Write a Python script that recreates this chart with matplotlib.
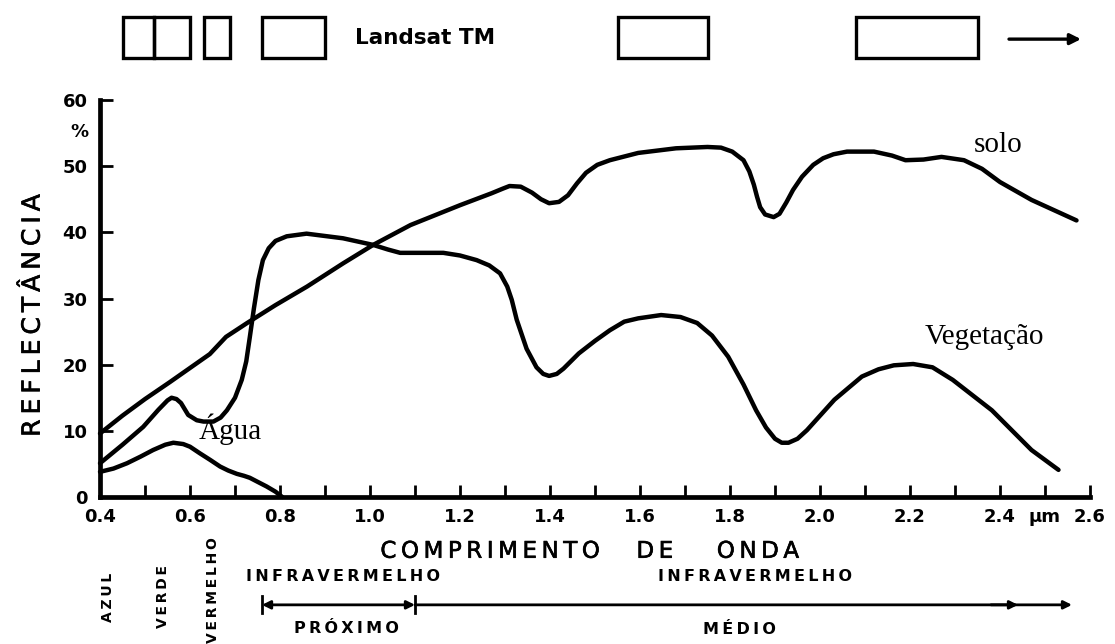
import matplotlib
matplotlib.use("Agg")
import matplotlib.pyplot as plt
import matplotlib.patheffects as pe
from matplotlib.patches import Rectangle
from matplotlib.ticker import FixedLocator, MultipleLocator
from matplotlib.transforms import blended_transform_factory

# Landsat TM band limits (µm)
tm_band_start = [0.45, 0.52, 0.63, 0.76, 1.55, 2.08]
tm_band_end = [0.52, 0.60, 0.69, 0.90, 1.75, 2.35]

# Spectral reflectance curves: wavelength (µm) and reflectance (%)
solo_wl = [0.40, 0.45, 0.50, 0.556, 0.60, 0.644, 0.68, 0.727, 0.79, 0.86, 0.94,
           1.007, 1.09, 1.20, 1.27, 1.295, 1.31, 1.335, 1.36, 1.38, 1.398, 1.42,
           1.44, 1.46, 1.48, 1.505, 1.533, 1.596, 1.68, 1.75, 1.78, 1.805, 1.83,
           1.843, 1.853, 1.86, 1.867, 1.878, 1.897, 1.91, 1.925, 1.94, 1.96,
           1.985, 2.007, 2.03, 2.06, 2.12, 2.16, 2.19, 2.23, 2.27, 2.32, 2.36,
           2.40, 2.47, 2.57]
solo_ref = [9.6, 12.3, 14.8, 17.4, 19.5, 21.6, 24.2, 26.3, 29.0, 31.8, 35.3,
            38.1, 41.1, 44.1, 45.9, 46.6, 47.0, 46.9, 46.0, 45.0, 44.4, 44.6,
            45.6, 47.4, 49.0, 50.2, 50.9, 52.0, 52.7, 52.9, 52.8, 52.2, 50.9,
            49.2, 47.2, 45.4, 43.8, 42.7, 42.3, 42.8, 44.5, 46.4, 48.4,
            50.2, 51.2, 51.8, 52.2, 52.2, 51.6, 50.9, 51.0, 51.4, 50.9, 49.6,
            47.6, 44.9, 41.8]

veg_wl = [0.40, 0.45, 0.496, 0.53, 0.55, 0.559, 0.57, 0.58, 0.596, 0.615, 0.63,
          0.652, 0.668, 0.682, 0.70, 0.715, 0.725, 0.733, 0.742, 0.752, 0.762,
          0.775, 0.79, 0.815, 0.859, 0.94, 1.007, 1.04, 1.067, 1.12, 1.163,
          1.20, 1.237, 1.265, 1.289, 1.305, 1.315, 1.326, 1.348, 1.37, 1.385,
          1.398, 1.415, 1.43, 1.464, 1.50, 1.533, 1.565, 1.596, 1.647, 1.69,
          1.727, 1.76, 1.796, 1.83, 1.858, 1.88, 1.90, 1.915, 1.93, 1.95, 1.971,
          2.032, 2.093, 2.13, 2.164, 2.207, 2.25, 2.295, 2.382, 2.47, 2.53]
veg_ref = [5.1, 7.9, 10.6, 13.2, 14.6, 15.0, 14.8, 14.2, 12.4, 11.6, 11.4,
           11.4, 12.0, 13.1, 15.0, 17.7, 20.5, 24.2, 28.5, 32.8, 35.8,
           37.6, 38.7, 39.4, 39.8, 39.1, 38.1, 37.4, 36.9, 36.9, 36.9,
           36.5, 35.8, 35.0, 33.8, 31.8, 29.8, 26.8, 22.4, 19.6, 18.6,
           18.3, 18.6, 19.4, 21.7, 23.6, 25.2, 26.5, 27.0, 27.5, 27.2,
           26.3, 24.4, 21.2, 17.0, 13.1, 10.5, 8.8, 8.2, 8.2, 8.8, 10.1,
           14.7, 18.2, 19.3, 19.9, 20.1, 19.6, 17.7, 13.1, 7.1, 4.1]

agua_wl = [0.40, 0.43, 0.46, 0.49, 0.518, 0.545, 0.563, 0.585, 0.60, 0.622, 0.645,
           0.667, 0.685, 0.704, 0.72, 0.733, 0.75, 0.77, 0.79, 0.805]
agua_ref = [3.8, 4.3, 5.1, 6.1, 7.1, 7.9, 8.2, 8.0, 7.6, 6.6, 5.6,
            4.6, 4.0, 3.5, 3.2, 2.9, 2.3, 1.6, 0.8, 0.0]

x_major = [0.4, 0.6, 0.8, 1.0, 1.2, 1.4, 1.6, 1.8, 2.0, 2.2, 2.4, 2.5, 2.6]
x_major_labels = ["0.4", "0.6", "0.8", "1.0", "1.2", "1.4", "1.6", "1.8",
                  "2.0", "2.2", "2.4", "µm", "2.6"]
y_ticks = [0, 10, 20, 30, 40, 50, 60]
y_tick_labels = ["0", "10", "20", "30", "40", "50", "60"]

TS = "\u2009"  # thin space used for letter spacing


def spaced(word):
    return TS.join(word)


INK = "black"
heavy = [pe.withStroke(linewidth=0.45, foreground=INK)]

fig = plt.figure(figsize=(11.15, 6.44), dpi=100)
ax = fig.add_axes([100 / 1115, 147 / 644, 990 / 1115, 397 / 644])
ax.set_xlim(0.4, 2.6)
ax.set_ylim(0, 60)

for side in ("top", "right"):
    ax.spines[side].set_visible(False)
for side in ("left", "bottom"):
    ax.spines[side].set_linewidth(3.4)
    ax.spines[side].set_color(INK)
    ax.spines[side].set_capstyle("projecting")

ax.xaxis.set_major_locator(FixedLocator(x_major))
ax.set_xticklabels(x_major_labels)
ax.xaxis.set_minor_locator(MultipleLocator(0.1))
ax.set_yticks(y_ticks)
ax.set_yticklabels(y_tick_labels)
ax.tick_params(axis="both", which="both", direction="in", length=9, width=2.0,
               color=INK, labelsize=13, pad=8)
ax.tick_params(axis="y", pad=9)
for lab in ax.get_xticklabels() + ax.get_yticklabels():
    lab.set_fontweight("bold")

# percent sign under the top y label
ax.text(-0.012, 55.2, "%", transform=blended_transform_factory(ax.transAxes, ax.transData),
        ha="right", va="center", fontsize=13, fontweight="bold")

# curves
line_kw = dict(color=INK, lw=3.2, solid_joinstyle="round", solid_capstyle="round",
               clip_on=False)
ax.plot(solo_wl, solo_ref, **line_kw)
ax.plot(veg_wl, veg_ref, **line_kw)
ax.plot(agua_wl, agua_ref, **line_kw)

serif = ["Liberation Serif", "DejaVu Serif"]
ax.text(2.396, 53.2, "solo", fontsize=21, family=serif, ha="center", va="center")
ax.text(2.365, 24.2, "Vegetação", fontsize=21, family=serif, ha="center", va="center")
ax.text(0.69, 10.3, "Água", fontsize=21, family=serif, ha="center", va="center")

# Landsat TM bands drawn above the plot
box_low, box_high = 66.3, 72.5
for s, e in zip(tm_band_start, tm_band_end):
    ax.add_patch(Rectangle((s, box_low), e - s, box_high - box_low, fill=False,
                           lw=2.4, ec=INK, clip_on=False))
ax.text(1.122, 69.4, "Landsat TM", fontsize=15.5, fontweight="bold", ha="center",
        va="center")
ax.annotate("", xy=(2.58, 69.2), xytext=(2.42, 69.2),
            arrowprops=dict(arrowstyle="-|>", lw=2.4, color=INK, mutation_scale=16,
                            shrinkA=0, shrinkB=0),
            annotation_clip=False)

# axis titles
ax.text(-0.068, 0.458, spaced("REFLECTÂNCIA"), transform=ax.transAxes, rotation=90,
        ha="center", va="center", fontsize=18, path_effects=heavy)
for xpos, word in [(1.267, "COMPRIMENTO"), (1.633, "DE"), (1.862, "ONDA")]:
    ax.text(xpos, -8.2, spaced(word), ha="center", va="center", fontsize=16.5,
            path_effects=heavy)

# visible spectrum colour names
for xpos, ypos, word in [(0.418, -15.1, "AZUL"), (0.54, -15.0, "VERDE"),
                         (0.651, -14.0, "VERMELHO")]:
    ax.text(xpos, ypos, spaced(word), rotation=90, ha="center", va="center",
            fontsize=10, fontweight="bold")

# infrared regions
ax.text(0.94, -12.0, spaced("INFRAVERMELHO"), ha="center", va="center",
        fontsize=11.5, fontweight="bold")
ax.text(1.856, -12.0, spaced("INFRAVERMELHO"), ha="center", va="center",
        fontsize=11.5, fontweight="bold")
ax.text(0.947, -19.8, spaced("PRÓXIMO"), ha="center", va="center",
        fontsize=11.5, fontweight="bold")
ax.text(1.822, -20.1, spaced("MÉDIO"), ha="center", va="center",
        fontsize=11.5, fontweight="bold")

arrow_y = -16.3
ax.annotate("", xy=(1.10, arrow_y), xytext=(0.76, arrow_y),
            arrowprops=dict(arrowstyle="<|-|>", lw=2.0, color=INK, mutation_scale=12,
                            shrinkA=0, shrinkB=0),
            annotation_clip=False)
for xb in (0.76, 1.10):
    ax.plot([xb, xb], [arrow_y - 1.3, arrow_y + 1.3], color=INK, lw=2.0, clip_on=False)
ax.annotate("", xy=(2.56, arrow_y), xytext=(1.10, arrow_y),
            arrowprops=dict(arrowstyle="-|>", lw=2.0, color=INK, mutation_scale=12,
                            shrinkA=0, shrinkB=0),
            annotation_clip=False)
ax.annotate("", xy=(2.44, arrow_y), xytext=(2.38, arrow_y),
            arrowprops=dict(arrowstyle="-|>", lw=2.0, color=INK, mutation_scale=12,
                            shrinkA=0, shrinkB=0),
            annotation_clip=False)

fig.savefig("out.png", dpi=100, facecolor="white")
